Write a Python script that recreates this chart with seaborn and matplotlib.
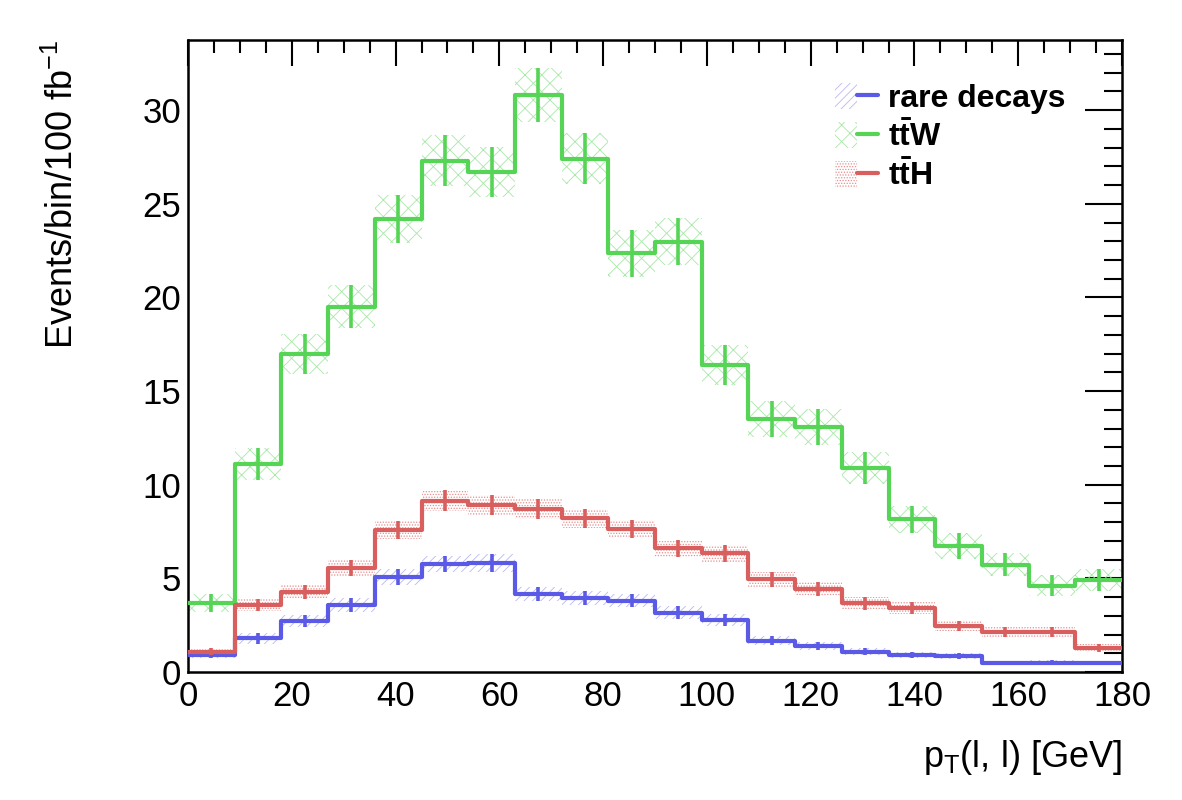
import numpy as np
import pandas as pd
import matplotlib
matplotlib.use("Agg")
import matplotlib.pyplot as plt
import seaborn as sns
from matplotlib.patches import Patch
from matplotlib.lines import Line2D
from matplotlib.legend_handler import HandlerTuple
from matplotlib.ticker import MultipleLocator

# ---- data ----
bin_edges = [0, 9, 18, 27, 36, 45, 54, 63, 72, 81, 90, 99, 108, 117, 126, 135, 144, 153, 162, 171, 180]
rare_vals = [0.93, 1.80, 2.74, 3.58, 5.05, 5.77, 5.82, 4.18, 3.93, 3.81, 3.17, 2.78, 1.67, 1.40, 1.08, 0.91, 0.85, 0.48, 0.50, 0.48]
rare_errs = [0.20, 0.28, 0.33, 0.38, 0.43, 0.45, 0.46, 0.38, 0.37, 0.36, 0.33, 0.31, 0.24, 0.22, 0.19, 0.18, 0.17, 0.13, 0.13, 0.13]
ttw_vals = [3.68, 11.10, 17.00, 19.50, 24.20, 27.30, 26.70, 30.80, 27.40, 22.35, 22.97, 16.40, 13.50, 13.08, 10.90, 8.15, 6.74, 5.73, 4.61, 4.90]
ttw_errs = [0.50, 0.87, 1.07, 1.15, 1.28, 1.36, 1.34, 1.44, 1.36, 1.23, 1.25, 1.05, 0.96, 0.94, 0.86, 0.74, 0.68, 0.62, 0.56, 0.58]
tth_vals = [1.08, 3.58, 4.29, 5.57, 7.58, 9.15, 8.92, 8.70, 8.20, 7.63, 6.60, 6.34, 4.96, 4.43, 3.67, 3.43, 2.46, 2.15, 2.12, 1.30]
tth_errs = [0.19, 0.34, 0.37, 0.42, 0.50, 0.55, 0.54, 0.53, 0.52, 0.50, 0.46, 0.45, 0.40, 0.38, 0.34, 0.33, 0.28, 0.26, 0.26, 0.21]
labels = ["rare decays", r"$\mathbf{t\bar{t}W}$", r"$\mathbf{t\bar{t}H}$"]

col_blue = "#5a5ae6"
col_green = "#55d455"
col_red = "#d95f5f"

sns.set_theme(style="white")
plt.rcParams["font.family"] = ["Liberation Sans", "DejaVu Sans"]
plt.rcParams["mathtext.fontset"] = "custom"
plt.rcParams["mathtext.rm"] = "Liberation Sans"
plt.rcParams["mathtext.it"] = "Liberation Sans"
plt.rcParams["mathtext.bf"] = "Liberation Sans:bold"
plt.rcParams["hatch.linewidth"] = 0.6
plt.rcParams["text.color"] = "black"
plt.rcParams["axes.labelcolor"] = "black"
plt.rcParams["xtick.color"] = "black"
plt.rcParams["ytick.color"] = "black"

fig = plt.figure(figsize=(11.82, 8.0), dpi=100)
ax = fig.add_axes([188 / 1182, 128 / 800, (1122 - 188) / 1182, (672 - 40) / 800])

edges = np.array(bin_edges, dtype=float)
centers = 0.5 * (edges[:-1] + edges[1:])
widths = np.diff(edges)

series = [
    ("rare", rare_vals, rare_errs, col_blue, "////", "#b8b8f2"),
    ("ttw", ttw_vals, ttw_errs, col_green, "xx", "#a8e8a8"),
    ("tth", tth_vals, tth_errs, col_red, "......", "#e88f8f"),
]

for name, vals, errs, col, hatch, hcol in series:
    v = np.array(vals)
    e = np.array(errs)
    ax.bar(centers, 2 * e, bottom=v - e, width=widths, fill=False, hatch=hatch,
           edgecolor=hcol, linewidth=0, zorder=1)

handles = []
for name, vals, errs, col, hatch, hcol in series:
    df = pd.DataFrame({"x": list(centers), "w": list(vals)})
    sns.histplot(data=df, x="x", weights="w", bins=list(bin_edges), element="step", fill=False,
                 color=col, linewidth=3.0, ax=ax, zorder=3)
    ax.errorbar(centers, vals, yerr=errs, fmt="none", ecolor=col,
                elinewidth=2.6, capsize=0, zorder=3)
    h = (Patch(facecolor="none", edgecolor=hcol, hatch=hatch, linewidth=0),
         Line2D([0], [0], color=col, linewidth=3.0))
    handles.append(h)

ax.set_xlim(0, 180)
ax.set_ylim(0, 33.75)
ax.xaxis.set_major_locator(MultipleLocator(20))
ax.xaxis.set_minor_locator(MultipleLocator(5))
ax.yaxis.set_major_locator(MultipleLocator(5))
ax.yaxis.set_minor_locator(MultipleLocator(1))
ax.tick_params(axis="both", which="both", direction="in", top=True, right=True,
               colors="black", labelsize=25, width=1.5)
ax.tick_params(axis="x", which="major", length=19, pad=6)
ax.tick_params(axis="x", which="minor", length=9)
ax.tick_params(axis="y", which="major", length=27, pad=5)
ax.tick_params(axis="y", which="minor", length=13)
for s in ax.spines.values():
    s.set_color("black")
    s.set_linewidth(1.8)

ax.set_xlabel(r"p$_{\rm T}$(l, l) [GeV]", fontsize=26, loc="right", labelpad=18)
ax.set_ylabel(r"Events/bin/100 fb$^{-1}$", fontsize=26, loc="top", labelpad=44)

leg = ax.legend(handles, labels, handler_map={tuple: HandlerTuple(ndivide=None, pad=0)},
                loc="upper left", bbox_to_anchor=(0.693, 0.932), frameon=False,
                borderpad=0, borderaxespad=0,
                prop={"size": 23, "weight": "bold"}, handlelength=1.35, handleheight=0.9,
                handletextpad=0.3, labelspacing=0.22)

fig.savefig("out.png", dpi=100)
